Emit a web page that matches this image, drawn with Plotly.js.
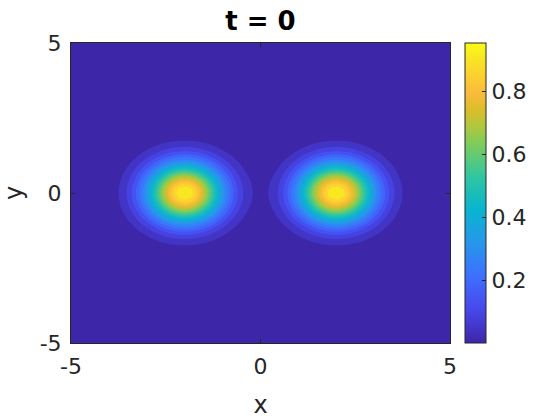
<!DOCTYPE html>
<html>
<head>
<meta charset="utf-8">
<script src="https://cdn.plot.ly/plotly-3.0.1.min.js"></script>
<style>html,body{margin:0;padding:0;background:#fff;}#chart{width:560px;height:420px;}</style>
</head>
<body>
<div id="chart"></div>
<script>
// ---- data ----
const titleText = 't = 0';
const xLabel = 'x';
const yLabel = 'y';
const xRange = [-5, 5];
const yRange = [-5, 5];
const xTicks = [-5, 0, 5];
const yTicks = [-5, 0, 5];
const cbTicks = [0.2, 0.4, 0.6, 0.8];
// two Gaussian blobs (t = 0 initial condition)
const blobCenterX = [-2, 2];
const blobCenterY = [0, 0];
const blobPeak = [0.953, 0.953];
const blobWidth = [1, 1];
const nLevels = 20;
const gridN = 121;

// parula colormap
const parula = [
  [0.000, 'rgb(62,38,168)'],
  [0.111, 'rgb(71,71,235)'],
  [0.222, 'rgb(62,111,255)'],
  [0.333, 'rgb(39,150,235)'],
  [0.444, 'rgb(8,181,208)'],
  [0.556, 'rgb(49,198,159)'],
  [0.667, 'rgb(129,204,89)'],
  [0.722, 'rgb(176,199,62)'],
  [0.778, 'rgb(220,189,41)'],
  [0.833, 'rgb(250,187,60)'],
  [0.889, 'rgb(252,207,48)'],
  [0.944, 'rgb(248,228,36)'],
  [1.000, 'rgb(249,251,21)']
];

// ---- build field ----
const xs = [], ys = [];
for (let i = 0; i < gridN; i++) {
  xs.push(xRange[0] + (xRange[1] - xRange[0]) * i / (gridN - 1));
  ys.push(yRange[0] + (yRange[1] - yRange[0]) * i / (gridN - 1));
}
const z = ys.map(y => xs.map(x => {
  let v = 0;
  for (let k = 0; k < blobCenterX.length; k++) {
    const r2 = ((x - blobCenterX[k]) ** 2 + (y - blobCenterY[k]) ** 2) / (blobWidth[k] ** 2);
    v += blobPeak[k] * Math.exp(-r2);
  }
  return v;
}));
let zmin = Infinity, zmax = -Infinity;
z.forEach(r => r.forEach(v => { if (v < zmin) zmin = v; if (v > zmax) zmax = v; }));
const step = (zmax - zmin) / (nLevels + 1);

const ink = '#262626';
const font = 'DejaVu Sans, sans-serif';

const traces = [
  {
    type: 'contour', x: xs, y: ys, z: z,
    colorscale: parula, showscale: false,
    autocontour: false,
    contours: { start: zmin + step, end: zmin + (nLevels + 1) * step + step * 1e-3, size: step, coloring: 'fill', showlines: false },
    line: { width: 0 },
    hoverinfo: 'skip'
  },
  {
    type: 'scatter', mode: 'markers', x: [0, 0], y: [0, 0],
    marker: {
      color: [zmin, zmax], colorscale: parula, cmin: zmin, cmax: zmax, opacity: 0, size: 1,
      showscale: true,
      colorbar: {
        x: (465 - 71) / 379, xanchor: 'left', xref: 'paper',
        y: 0.5, yanchor: 'middle', len: 1, lenmode: 'fraction',
        thickness: 21, thicknessmode: 'pixels', xpad: 0, ypad: 0,
        outlinecolor: ink, outlinewidth: 1,
        tickvals: cbTicks, ticktext: cbTicks.map(v => v.toFixed(1)),
        ticks: 'inside', ticklen: 4, tickcolor: ink,
        tickfont: { family: font, size: 22, color: ink }
      }
    },
    hoverinfo: 'skip', showlegend: false
  }
];

const axisCommon = {
  showline: true, linecolor: ink, linewidth: 1, mirror: 'ticks',
  ticks: 'inside', ticklen: 4, tickcolor: ink, tickwidth: 1,
  showgrid: false, zeroline: false,
  tickfont: { family: font, size: 22, color: ink }
};

const layout = {
  width: 560, height: 420,
  margin: { l: 71, r: 110, t: 43, b: 77, pad: 0 },
  paper_bgcolor: '#fff', plot_bgcolor: '#fff',
  showlegend: false,
  title: { text: '<b>' + titleText + '</b>', font: { family: font, size: 26, color: '#000' },
           x: 0.5, xref: 'paper', xanchor: 'center', y: 1 - 21 / 420, yref: 'container', yanchor: 'middle' },
  xaxis: Object.assign({}, axisCommon, {
    range: xRange, tickvals: xTicks, ticktext: xTicks.map(String),
    ticklabelstandoff: 4,
    title: { text: xLabel, font: { family: font, size: 24, color: ink }, standoff: 17 }
  }),
  yaxis: Object.assign({}, axisCommon, {
    range: yRange, tickvals: yTicks, ticktext: yTicks.map(String),
    ticklabelstandoff: 4,
    title: { text: yLabel, font: { family: font, size: 24, color: ink }, standoff: 12 }
  })
};

Plotly.newPlot('chart', traces, layout, { staticPlot: true, displayModeBar: false });
</script>
</body>
</html>
